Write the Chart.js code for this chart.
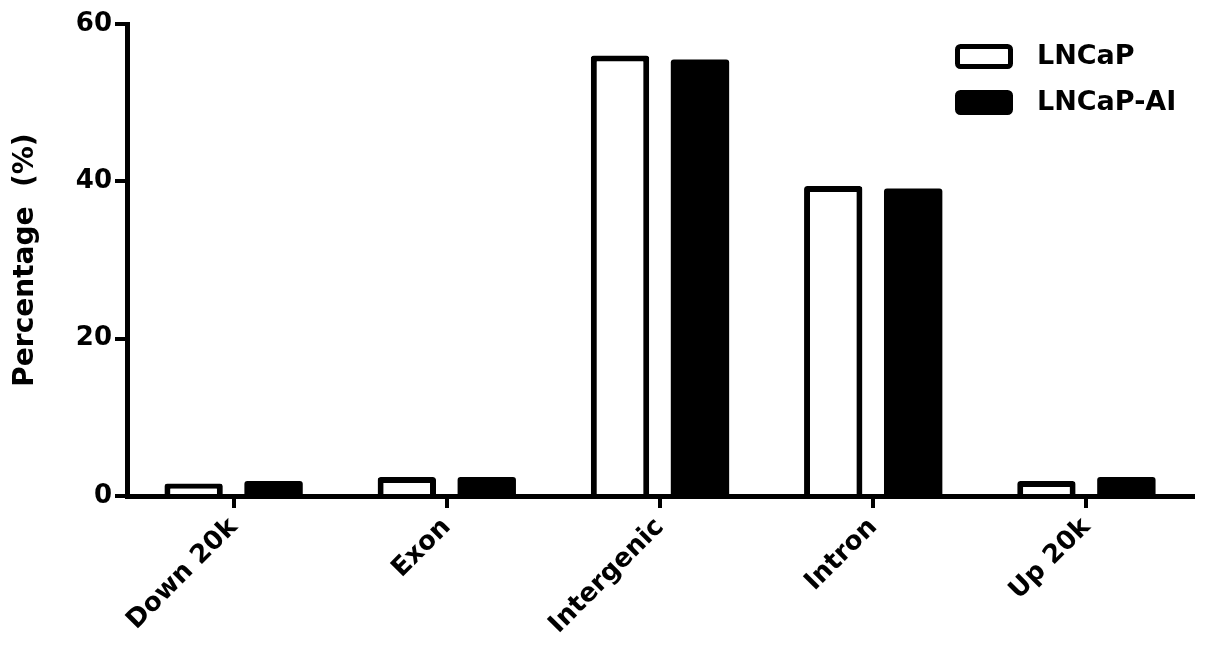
<!DOCTYPE html>
<html>
<head>
<meta charset="utf-8">
<script src="https://cdn.jsdelivr.net/npm/chart.js@4"></script>
<style>
  html, body { margin: 0; padding: 0; background: #fff; }
  #wrap { width: 1205px; height: 647px; }
</style>
</head>
<body>
<div id="wrap"><canvas id="myChart" width="1205" height="647"></canvas></div>
<script>
// categories along the x-axis
var regions = ["Down 20k", "Exon", "Intergenic", "Intron", "Up 20k"];
// percentages
var lncap = [1.6, 2.4, 56.0, 39.4, 1.9];
var lncapAI = [1.9, 2.4, 55.5, 39.1, 2.4];
// y ticks
var yTicks = [0, 20, 40, 60];

var FONT = "'DejaVu Sans', 'Liberation Sans', Arial, sans-serif";

// legend drawn inside the plot, top right
var boxLegend = {
  id: 'boxLegend',
  afterDraw: function (chart) {
    var ctx = chart.ctx;
    var area = chart.chartArea;
    var x = area.right - 238;
    var y = area.top + 20;
    ctx.save();
    chart.data.datasets.forEach(function (ds, i) {
      var top = y + i * 46;
      ctx.beginPath();
      ctx.roundRect(x + 2.5, top + 2.5, 53, 20, 3);
      ctx.fillStyle = ds.backgroundColor;
      ctx.fill();
      ctx.lineWidth = 5;
      ctx.strokeStyle = '#000';
      ctx.stroke();
      ctx.fillStyle = '#000';
      ctx.font = 'bold 27px ' + FONT;
      ctx.textBaseline = 'middle';
      ctx.textAlign = 'left';
      ctx.fillText(ds.label, x + 82, top + 13);
    });
    ctx.restore();
  }
};

var ctx = document.getElementById("myChart");
var myChart = new Chart(ctx, {
  type: 'bar',
  data: {
    labels: regions,
    datasets: [
      {
        label: "LNCaP",
        data: lncap,
        backgroundColor: "#ffffff",
        borderColor: "#000000",
        borderWidth: 6,
        borderRadius: 3
      },
      {
        label: "LNCaP-AI",
        data: lncapAI,
        backgroundColor: "#000000",
        borderWidth: 0,
        borderRadius: 3
      }
    ]
  },
  options: {
    responsive: false,
    animation: false,
    devicePixelRatio: 1,
    categoryPercentage: 0.75,
    barPercentage: 0.73,
    layout: { padding: { top: 24, right: 12, left: 0, bottom: 0 } },
    plugins: {
      legend: { display: false },
      tooltip: { enabled: false }
    },
    scales: {
      x: {
        z: 1,
        grid: {
          offset: false,
          drawOnChartArea: false,
          tickLength: 12,
          lineWidth: 4,
          color: '#000'
        },
        border: { display: true, width: 5, color: '#000' },
        ticks: {
          color: '#000',
          font: { family: FONT, size: 26, weight: 'bold' },
          minRotation: 45,
          maxRotation: 45,
          padding: 4
        },
        afterFit: function (scale) { scale.height = 151; }
      },
      y: {
        min: 0,
        max: 60,
        afterBuildTicks: function (scale) {
          scale.ticks = yTicks.map(function (v) { return { value: v }; });
        },
        grid: {
          drawOnChartArea: false,
          tickLength: 12,
          lineWidth: 4,
          color: '#000'
        },
        border: { display: true, width: 5, color: '#000' },
        ticks: {
          color: '#000',
          font: { family: FONT, size: 26, weight: 'bold' },
          padding: 3
        },
        title: {
          display: true,
          text: "Percentage  (%)",
          color: '#000',
          font: { family: FONT, size: 28, weight: 'bold' },
          padding: { top: 9, bottom: 0 }
        },
        afterFit: function (scale) { scale.width = 127; }
      }
    }
  },
  plugins: [boxLegend]
});
</script>
</body>
</html>
